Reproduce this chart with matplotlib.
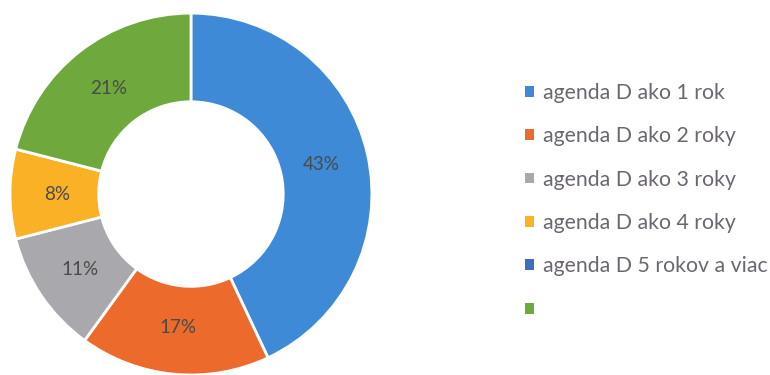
import matplotlib.pyplot as plt

# data
labels = ['agenda D ako 1 rok', 'agenda D ako 2 roky', 'agenda D ako 3 roky',
          'agenda D ako 4 roky', 'agenda D 5 rokov a viac', '']
shares = [43, 17, 11, 8, 0, 21]
colors = ['#3f8ad6', '#eb6a2c', '#a9a8ad', '#fbb125', '#3f6fba', '#6fa83d']

plt.rcParams['font.family'] = ['Lato', 'DejaVu Sans']

fig = plt.figure(figsize=(7.7, 3.75), dpi=100)
ax = fig.add_axes([0.013, 0.0, 0.470, 0.965])


def pct_label(p):
    # hide the empty slice
    return f'{p:.0f}%' if p >= 1 else ''


wedges, texts, autotexts = ax.pie(
    shares, colors=colors, startangle=90, counterclock=False,
    radius=1.0, autopct=pct_label, pctdistance=0.74,
    wedgeprops=dict(width=0.49, edgecolor='white', linewidth=2),
    textprops=dict(color='#4a4a4a', fontsize=13.5))
ax.set_xlim(-1.0, 1.0)
ax.set_ylim(-1.0, 1.0)
ax.set_aspect('equal')

leg = fig.legend(wedges, labels, loc='upper left', bbox_to_anchor=(0.657, 0.83),
                 frameon=False, fontsize=15.3, labelcolor='#6b6670',
                 handlelength=0.4, handleheight=0.4, handletextpad=0.45,
                 labelspacing=1.1)
for h in leg.legend_handles:
    h.set_edgecolor('none')

fig.savefig('out.png', dpi=100, facecolor='white')
